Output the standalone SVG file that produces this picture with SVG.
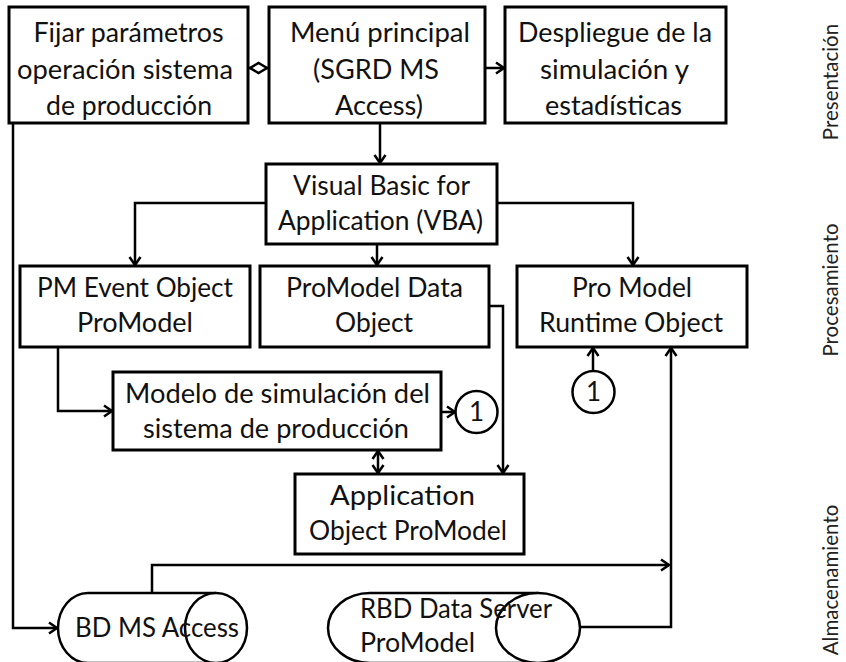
<svg xmlns="http://www.w3.org/2000/svg" width="846" height="662" viewBox="0 0 846 662">
<style>
.box{fill:#fff;stroke:#000;stroke-width:3}
.t{font-family:Lato,"Liberation Sans",sans-serif;font-size:26px;fill:#111;text-anchor:middle}
.tl{font-family:Lato,"Liberation Sans",sans-serif;font-size:26px;fill:#111;text-anchor:start}
.v{font-family:Lato,"Liberation Sans",sans-serif;font-size:20.5px;fill:#222;text-anchor:middle}
.c{fill:none;stroke:#000;stroke-width:2.5}
.cyl{fill:#fff;stroke:#000;stroke-width:2.5}
</style>
<defs>
<marker id="ah" markerWidth="14" markerHeight="14" refX="11" refY="7" orient="auto-start-reverse" markerUnits="userSpaceOnUse">
<path d="M3,1.5 L11,7 L3,12.5" fill="none" stroke="#000" stroke-width="2.5"/>
</marker>
</defs>

<g id="connectors">
<line class="c" x1="248" y1="68" x2="269" y2="68"/>
<polygon points="250,68 258.5,63 267,68 258.5,73" fill="#fff" stroke="#000" stroke-width="2.5"/>
<path class="c" d="M485,68 H504" marker-end="url(#ah)"/>
<path class="c" d="M380,123 V163" marker-end="url(#ah)"/>
<path class="c" d="M266,203 H135 V265" marker-end="url(#ah)"/>
<path class="c" d="M377,244 V265" marker-end="url(#ah)"/>
<path class="c" d="M497,203 H633 V265" marker-end="url(#ah)"/>
<path class="c" d="M58,347 V411 H112" marker-end="url(#ah)"/>
<path class="c" d="M489,306 H503 V473" marker-end="url(#ah)"/>
<path class="c" d="M441,412 H455" marker-end="url(#ah)"/>
<path class="c" d="M378,451 V473" marker-start="url(#ah)" marker-end="url(#ah)"/>
<path class="c" d="M593,371 V348" marker-end="url(#ah)"/>
<path class="c" d="M13,123 V628 H57" marker-end="url(#ah)"/>
<path class="c" d="M152,593 V565 H669" marker-end="url(#ah)"/>
<path class="c" d="M581,627 H671 V348" marker-end="url(#ah)"/>
</g>

<g id="fijar">
<rect class="box" x="9" y="7" width="239" height="116"/>
<text class="t" x="128.5" y="42" textLength="190" lengthAdjust="spacingAndGlyphs">Fijar parámetros</text>
<text class="t" x="125" y="79" textLength="216" lengthAdjust="spacingAndGlyphs">operación sistema</text>
<text class="t" x="129" y="115" textLength="166" lengthAdjust="spacingAndGlyphs">de producción</text>
</g>

<g id="menu">
<rect class="box" x="269" y="7" width="216" height="116"/>
<text class="t" x="380" y="42" textLength="180" lengthAdjust="spacingAndGlyphs">Menú principal</text>
<text class="t" x="376" y="79" textLength="126" lengthAdjust="spacingAndGlyphs">(SGRD MS</text>
<text class="t" x="379" y="115" textLength="88" lengthAdjust="spacingAndGlyphs">Access)</text>
</g>

<g id="despliegue">
<rect class="box" x="505" y="7" width="221" height="116"/>
<text class="t" x="615" y="42" textLength="194" lengthAdjust="spacingAndGlyphs">Despliegue de la</text>
<text class="t" x="614.5" y="79" textLength="149" lengthAdjust="spacingAndGlyphs">simulación y</text>
<text class="t" x="613.5" y="115" textLength="137" lengthAdjust="spacingAndGlyphs">estadísticas</text>
</g>

<g id="vba">
<rect class="box" x="266" y="164" width="231" height="80"/>
<text class="t" x="381.5" y="195" textLength="177" lengthAdjust="spacingAndGlyphs">Visual Basic for</text>
<text class="t" x="380.5" y="230" textLength="205" lengthAdjust="spacingAndGlyphs">Application (VBA)</text>
</g>

<g id="pmevent">
<rect class="box" x="20" y="266" width="230" height="81"/>
<text class="t" x="135" y="297" textLength="196" lengthAdjust="spacingAndGlyphs">PM Event Object</text>
<text class="t" x="135" y="332" textLength="116" lengthAdjust="spacingAndGlyphs">ProModel</text>
</g>

<g id="dataobject">
<rect class="box" x="260" y="266" width="229" height="81"/>
<text class="t" x="374.5" y="297" textLength="177" lengthAdjust="spacingAndGlyphs">ProModel Data</text>
<text class="t" x="374" y="332" textLength="78" lengthAdjust="spacingAndGlyphs">Object</text>
</g>

<g id="runtime">
<rect class="box" x="517" y="266" width="230" height="81"/>
<text class="t" x="632" y="297" textLength="120" lengthAdjust="spacingAndGlyphs">Pro Model</text>
<text class="t" x="631" y="332" textLength="184" lengthAdjust="spacingAndGlyphs">Runtime Object</text>
</g>

<g id="modelo">
<rect class="box" x="113" y="372" width="328" height="78"/>
<text class="t" x="277.5" y="403" textLength="305" lengthAdjust="spacingAndGlyphs">Modelo de simulación del</text>
<text class="t" x="276" y="438" textLength="266" lengthAdjust="spacingAndGlyphs">sistema de producción</text>
</g>

<g id="circle1a">
<circle cx="476.5" cy="412" r="21" fill="#fff" stroke="#000" stroke-width="2.5"/>
<text class="t" x="476.5" y="421">1</text>
</g>

<g id="circle1b">
<circle cx="593.5" cy="392" r="21" fill="#fff" stroke="#000" stroke-width="2.5"/>
<text class="t" x="593.5" y="401">1</text>
</g>

<g id="application">
<rect class="box" x="295" y="474" width="229" height="80"/>
<text class="t" x="402.5" y="505" textLength="145" lengthAdjust="spacingAndGlyphs">Application</text>
<text class="t" x="408" y="540" textLength="198" lengthAdjust="spacingAndGlyphs">Object ProModel</text>
</g>

<g id="bdaccess">
<path class="cyl" d="M216,593 H88 A30,35 0 0 0 88,663 H216"/>
<ellipse class="cyl" cx="216" cy="628" rx="31" ry="35"/>
<text class="tl" x="75" y="637" textLength="164" lengthAdjust="spacingAndGlyphs">BD MS Access</text>
</g>

<g id="rbd">
<path class="cyl" d="M538,593 H370 A42,35 0 0 0 370,663 H538"/>
<ellipse class="cyl" cx="538" cy="628" rx="42" ry="35"/>
<text class="tl" x="360" y="618" textLength="192" lengthAdjust="spacingAndGlyphs">RBD Data Server</text>
<text class="tl" x="360" y="652" textLength="115" lengthAdjust="spacingAndGlyphs">ProModel</text>
</g>

<g id="layers">
<text class="v" transform="translate(838,82) rotate(-90)">Presentación</text>
<text class="v" transform="translate(838,290) rotate(-90)">Procesamiento</text>
<text class="v" transform="translate(838,580) rotate(-90)">Almacenamiento</text>
</g>
</svg>
